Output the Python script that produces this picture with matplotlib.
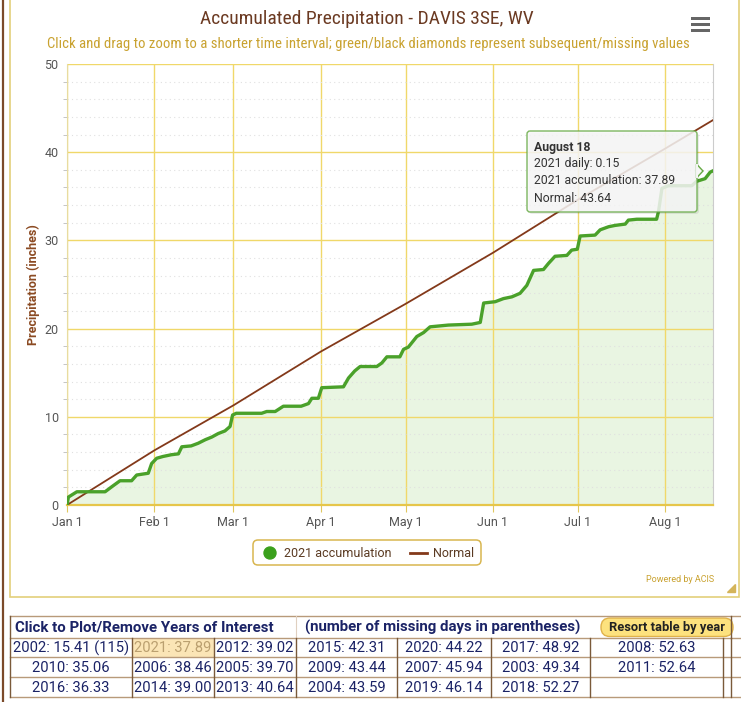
import matplotlib
matplotlib.use("Agg")
import matplotlib.pyplot as plt
from matplotlib.patches import FancyBboxPatch, Rectangle, Polygon, Circle
from matplotlib.ticker import MultipleLocator
from matplotlib import font_manager

# accumulated 2021 precipitation (day offset from Jan 1, inches)
acc_day = [0, 0.5, 2, 3.5, 13.5, 16, 18.8, 22.9, 24.7, 28.8, 30, 31.8, 34, 37, 39.5,
           40.7, 44, 46.5, 49, 51.3, 53.6, 56, 57.8, 58.7, 60, 69, 70.8, 73.8, 76.7,
           83, 85.6, 86.8, 89.1, 90.3, 98, 99.8, 102, 103.9, 109.8, 111.6, 113.4, 118,
           119.3, 121, 124, 126.4, 128.7, 135.2, 143.5, 146.5, 147.7, 151.8, 154.7,
           157.7, 160.6, 163, 165.4, 168.9, 170.7, 173, 177.2, 178.9, 180.9, 181.9,
           187.2, 189, 192, 194.3, 197.9, 199, 202, 209, 209.7, 210.9, 213.2, 221.5,
           223.2, 226.2, 228, 229]
acc_val = [0, 0.9, 1.2, 1.5, 1.5, 2.1, 2.75, 2.75, 3.4, 3.6, 4.7, 5.3, 5.5, 5.7, 5.8,
           6.6, 6.7, 7.0, 7.4, 7.7, 8.1, 8.4, 8.9, 10.2, 10.4, 10.4, 10.6, 10.6, 11.2,
           11.2, 11.5, 12.1, 12.1, 13.3, 13.4, 14.4, 15.2, 15.7, 15.7, 16.1, 16.8, 16.8,
           17.65, 17.9, 19.1, 19.55, 20.2, 20.4, 20.5, 20.7, 22.9, 23.05, 23.4,
           23.6, 24.0, 24.9, 26.6, 26.7, 27.4, 28.2, 28.3, 28.9, 29.0, 30.5,
           30.6, 31.2, 31.55, 31.7, 31.85, 32.3, 32.4, 32.4, 33.3, 35.9, 36.2, 36.2,
           36.7, 37.0, 37.74, 37.89]

# normal accumulation
norm_day = [0, 31, 59, 90, 120, 151, 181, 212, 229]
norm_val = [0, 6.2, 11.3, 17.4, 22.8, 28.6, 34.6, 40.4, 43.64]

month_days = [0, 31, 59, 90, 120, 151, 181, 212]
month_labels = ["Jan 1", "Feb 1", "Mar 1", "Apr 1", "May 1", "Jun 1", "Jul 1", "Aug 1"]

tooltip_lines = ["August 18", "2021 daily: 0.15", "2021 accumulation: 37.89", "Normal: 43.64"]

table_rows = [
    ["2002: 15.41 (115)", "2021: 37.89", "2012: 39.02", "2015: 42.31", "2020: 44.22", "2017: 48.92", "2008: 52.63"],
    ["2010: 35.06", "2006: 38.46", "2005: 39.70", "2009: 43.44", "2007: 45.94", "2003: 49.34", "2011: 52.64"],
    ["2016: 36.33", "2014: 39.00", "2013: 40.64", "2004: 43.59", "2019: 46.14", "2018: 52.27", ""],
]

names = {f.name for f in font_manager.fontManager.ttflist}
base = "Roboto" if "Roboto" in names else "DejaVu Sans"
title_font = base
for cand in ["Roboto Condensed", "Liberation Sans Narrow"]:
    if cand in names:
        title_font = cand
        break
plt.rcParams["font.family"] = [base, "DejaVu Sans"]

W, H = 741, 702
fig = plt.figure(figsize=(W / 100, H / 100), dpi=100)

# pixel overlay for frames, texts, table
bg = fig.add_axes([0, 0, 1, 1], zorder=0)
bg.set_xlim(0, W)
bg.set_ylim(H, 0)
bg.axis("off")
top = fig.add_axes([0, 0, 1, 1], zorder=5)
top.set_xlim(0, W)
top.set_ylim(H, 0)
top.axis("off")

bg.plot([3, 3], [0, H], color="#7b4a2a", lw=1.6)
bg.add_patch(Rectangle((10, -2), 729, 599, fill=False, ec="#e3cf7a", lw=1.2))

bg.text(367, 19, "Accumulated Precipitation - DAVIS 3SE, WV", ha="center", va="center",
        fontsize=14, color="#6b3a22", family=[title_font, "DejaVu Sans"])
bg.text(368, 44, "Click and drag to zoom to a shorter time interval; green/black diamonds represent subsequent/missing values",
        ha="center", va="center", fontsize=10.6, color="#c9a230", family=[title_font, "DejaVu Sans"])
for yy in (18, 24, 30):
    bg.add_patch(Rectangle((691, yy - 1.5), 19, 3, color="#666666", lw=0))

# main chart
ax = fig.add_axes([67 / W, 1 - 505 / H, (713 - 67) / W, (505 - 64) / H], zorder=2)
ax.set_facecolor("none")
ax.fill_between(acc_day, acc_val, 0, color="#e9f5e2", lw=0, zorder=1)
ax.plot(norm_day, norm_val, color="#83391a", lw=1.3, zorder=3)
ax.plot(acc_day, acc_val, color="#4aa12a", lw=2.4, solid_joinstyle="round", zorder=4)

ax.set_xlim(0, 229)
ax.set_ylim(0, 50)
ax.set_xticks(month_days)
ax.set_xticklabels(month_labels)
ax.yaxis.set_major_locator(MultipleLocator(10))
ax.yaxis.set_minor_locator(MultipleLocator(2))
ax.grid(True, which="major", color="#f0d86a", lw=1.0, zorder=0)
ax.grid(True, which="minor", axis="y", color="#e0e0e0", lw=0.8, ls=(0, (1, 3)), zorder=0)
ax.tick_params(axis="x", colors="#e0c860", length=5, labelcolor="#555555", labelsize=9, pad=3)
ax.tick_params(axis="y", which="major", length=0, labelcolor="#555555", labelsize=9, pad=6)
ax.tick_params(axis="y", which="minor", length=3, color="#bbbbbb")
ax.spines["top"].set_visible(False)
ax.spines["bottom"].set_color("#e6c64a")
ax.spines["bottom"].set_linewidth(1.6)
ax.spines["left"].set_color("#e8dca0")
ax.spines["left"].set_linewidth(0.8)
ax.spines["right"].set_color("#cccccc")
ax.spines["right"].set_linewidth(0.8)
ax.set_ylabel("Precipitation (inches)", fontsize=9, fontweight="bold", color="#8b4a22", labelpad=3)

# legend
bg.add_patch(FancyBboxPatch((253, 540), 228, 25, boxstyle="round,pad=0,rounding_size=5",
                            fc="white", ec="#d8b650", lw=1.1))
bg.add_patch(Circle((270, 553), 6, color="#3aa01c"))
bg.text(284, 553.5, "2021 accumulation", va="center", fontsize=9, color="#5a3a22")
bg.plot([410, 427], [553, 553], color="#83391a", lw=2)
bg.text(433, 553.5, "Normal", va="center", fontsize=9, color="#5a3a22")
bg.text(714, 580, "Powered by ACIS", ha="right", va="center", fontsize=6.5, color="#c9a230")
bg.add_patch(Polygon([[735, 584], [735, 592], [727, 592]], color="#d4b45a"))

# tooltip
top.add_patch(FancyBboxPatch((529, 133), 170, 81, boxstyle="round,pad=0,rounding_size=3",
                             fc="#000000", alpha=0.08, lw=0))
top.add_patch(FancyBboxPatch((527, 131), 170, 81, boxstyle="round,pad=0,rounding_size=3",
                             fc="#f7f7f7", alpha=0.85, ec="#66aa44", lw=1))
top.add_patch(Polygon([[696.5, 164], [703, 171], [696.5, 178]], fc="#f7f7f7", ec="#66aa44", lw=1))
top.plot([696.5, 696.5], [164.8, 177.2], color="#f7f7f7", lw=1.4)
for i, line in enumerate(tooltip_lines):
    top.text(534, 147 + i * 17, line, va="center", fontsize=8.8, color="#333333",
             fontweight="bold" if i == 0 else "normal")

# table of years
cols = [10, 131.5, 214, 296, 397, 491, 590, 723, 731]
rows = [638, 657, 677, 697]
tc = "#1b2366"
top.add_patch(Rectangle((131.5, 638), 82.5, 19, fc="#fbe5b6", lw=0))
top.plot([10, 741], [616, 616], color="#b89a7a", lw=1)
for yy in rows:
    top.plot([10, 741], [yy, yy], color="#b89a7a", lw=1)
top.plot([10, 10], [616, 697], color="#7a5a3a", lw=1)
top.plot([296, 296], [616, 638], color="#e0d0c0", lw=0.8)
for xx in cols[1:]:
    top.plot([xx, xx], [638, 697], color="#7a5a3a", lw=1)
top.plot([731, 731], [616, 638], color="#7a5a3a", lw=1)
top.text(15, 627, "Click to Plot/Remove Years of Interest", va="center", fontsize=10.8,
         fontweight="bold", color=tc)
top.text(305, 627, "(number of missing days in parentheses)", va="center", fontsize=10.8,
         fontweight="bold", color=tc)
top.add_patch(FancyBboxPatch((601, 618), 132, 18.5, boxstyle="round,pad=0,rounding_size=9",
                             fc="#fde27e", ec="#e0b24a", lw=1))
top.text(667, 627.5, "Resort table by year", ha="center", va="center", fontsize=9.3,
         fontweight="bold", color="#222222")
for r, row in enumerate(table_rows):
    for c, val in enumerate(row):
        cx = (cols[c] + cols[c + 1]) / 2
        cy = (rows[r] + rows[r + 1]) / 2
        color = "#bba070" if (r == 0 and c == 1) else tc
        top.text(cx, cy + 0.5, val, ha="center", va="center", fontsize=10.6, color=color)

fig.savefig("out.png", dpi=100)
